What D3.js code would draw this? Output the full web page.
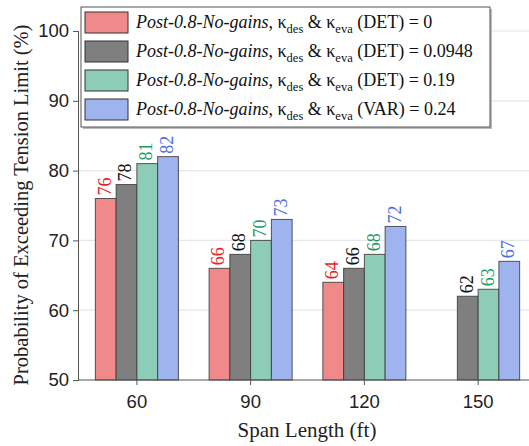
<!DOCTYPE html>
<html>
  <head>
    <meta charset="utf-8">
    <title>Probability of Exceeding Tension Limit</title>
    <script src="https://d3js.org/d3.v7.min.js"></script>
    <style type="text/css">
    body { margin: 0; background: #fff; }
    .tick text { font-family: "Liberation Sans", Arial, sans-serif; font-size: 18.5px; fill: #222; }
    .axis-title { font-family: "Liberation Serif", "Times New Roman", serif; font-size: 20.5px; fill: #222; }
    .bar-label { font-family: "Liberation Serif", "Times New Roman", serif; font-size: 18px; }
    .legend text { font-family: "Liberation Serif", "Times New Roman", serif; font-size: 18px; fill: #111; }
    </style>
  </head>
  <body>
  <script type="text/javascript">

    // span lengths (ft)
    var spans = ["60", "90", "120", "150"];

    var seriesNames = ["det0", "det0948", "det019", "var024"];
    var legendValues = ["(DET) = 0", "(DET) = 0.0948", "(DET) = 0.19", "(VAR) = 0.24"];

    // probability values per series, one per span (null = no bar)
    var det0    = [76, 66, 64, null];
    var det0948 = [78, 68, 66, 62];
    var det019  = [81, 70, 68, 63];
    var var024  = [82, 73, 72, 67];

    var yTicks = [50, 60, 70, 80, 90, 100];

    var fills  = ["#f08a8a", "#7f7f7f", "#8dcdb7", "#9fb3ee"];
    var labelColors = ["#e8241f", "#111111", "#1f9a68", "#4a6fe0"];

    var values = [det0, det0948, det019, var024];

    var W = 529, H = 446;
    var margin = {left: 78, right: 0, top: 31, bottom: 66};

    var svg = d3.select("body").append("svg")
      .attr("width", W)
      .attr("height", H);

    var y = d3.scaleLinear().domain([50, 100]).range([380, 31]);

    var x0 = d3.scaleBand().domain(spans).range([80, 535])
      .paddingInner(0.27).paddingOuter(0.135);
    var x1 = d3.scaleBand().domain(seriesNames).range([0, x0.bandwidth()]);

    // grid lines
    svg.append("g").selectAll("line")
      .data(yTicks.slice(1))
      .enter().append("line")
      .attr("x1", margin.left).attr("x2", W)
      .attr("y1", function(d){ return y(d); })
      .attr("y2", function(d){ return y(d); })
      .style("stroke", "#e6e6e6")
      .style("stroke-width", 1.2);

    // bars
    var groups = svg.append("g").selectAll("g")
      .data(spans)
      .enter().append("g")
      .attr("transform", function(d){ return "translate(" + x0(d) + ",0)"; });

    groups.each(function(span, i){
      var g = d3.select(this);
      var rows = seriesNames.map(function(s, k){ return {s: s, k: k, v: values[k][i]}; })
        .filter(function(r){ return r.v != null; });

      g.selectAll("rect").data(rows).enter().append("rect")
        .attr("x", function(r){ return x1(r.s); })
        .attr("y", function(r){ return y(r.v); })
        .attr("width", x1.bandwidth())
        .attr("height", function(r){ return y(50) - y(r.v); })
        .style("fill", function(r){ return fills[r.k]; })
        .style("stroke", "#3a3a3a")
        .style("stroke-opacity", 0.85)
        .style("stroke-width", 1);

      g.selectAll("text").data(rows).enter().append("text")
        .attr("class", "bar-label")
        .attr("transform", function(r){
          return "translate(" + (x1(r.s) + x1.bandwidth() / 2 + 5) + "," + (y(r.v) - 3) + ") rotate(-90)";
        })
        .style("fill", function(r){ return labelColors[r.k]; })
        .text(function(r){ return r.v; });
    });

    // axes
    var yAxis = d3.axisLeft(y).tickValues(yTicks).tickSize(5).tickPadding(4);
    var gy = svg.append("g")
      .attr("transform", "translate(" + margin.left + ",0)")
      .call(yAxis);
    gy.select(".domain").style("stroke", "#555");
    gy.selectAll(".tick line").style("stroke", "#555");

    var xAxis = d3.axisBottom(x0).tickSize(5).tickPadding(10).tickSizeOuter(0);
    var gx = svg.append("g")
      .attr("transform", "translate(0," + y(50) + ")")
      .call(xAxis);
    gx.select(".domain").attr("d", "M" + margin.left + ",0H" + W).style("stroke", "#555");
    gx.selectAll(".tick line").style("stroke", "#555");

    // axis titles
    svg.append("text")
      .attr("class", "axis-title")
      .attr("text-anchor", "middle")
      .style("font-size", "21px")
      .attr("x", 307).attr("y", 437)
      .text("Span Length (ft)");

    svg.append("text")
      .attr("class", "axis-title")
      .attr("text-anchor", "middle")
      .attr("transform", "translate(28,205) rotate(-90)")
      .text("Probability of Exceeding Tension Limit (%)");

    // legend
    var leg = svg.append("g").attr("class", "legend");
    leg.append("rect")
      .attr("x", 83).attr("y", 9).attr("width", 409).attr("height", 120)
      .style("fill", "#bbb");
    leg.append("rect")
      .attr("x", 81).attr("y", 7).attr("width", 409).attr("height", 120)
      .style("fill", "#fff")
      .style("stroke", "#555")
      .style("stroke-width", 1);

    var items = leg.selectAll(".item")
      .data(seriesNames)
      .enter().append("g")
      .attr("class", "item")
      .attr("transform", function(d, i){ return "translate(0," + (12 + i * 29) + ")"; });

    items.append("rect")
      .attr("x", 85).attr("y", 0).attr("width", 43).attr("height", 21)
      .style("fill", function(d, i){ return fills[i]; })
      .style("stroke", "#333")
      .style("stroke-width", 1);

    var t = items.append("text").attr("x", 136).attr("y", 16);
    t.append("tspan").style("font-style", "italic").text("Post-0.8-No-gains");
    t.append("tspan").text(", \u03ba");
    t.append("tspan").attr("dy", 5).style("font-size", "12.5px").text("des");
    t.append("tspan").attr("dy", -5).text(" & \u03ba");
    t.append("tspan").attr("dy", 5).style("font-size", "12.5px").text("eva");
    t.append("tspan").attr("dy", -5).text(function(d, i){ return " " + legendValues[i]; });

  </script>
  </body>
</html>
